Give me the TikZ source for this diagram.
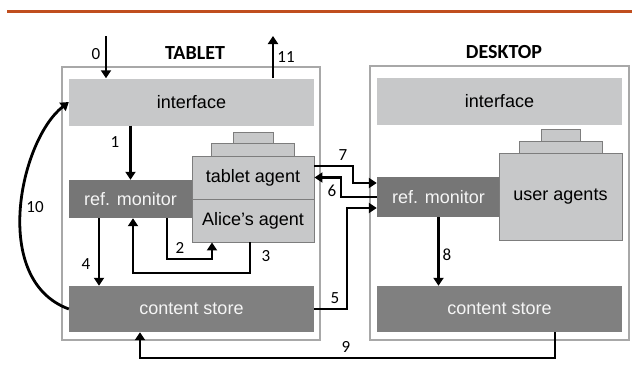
\documentclass[tikz,border=0pt]{standalone}
\usepackage{fontspec}
\setmainfont{Liberation Sans}
\newfontfamily\calib{Carlito}
\usetikzlibrary{arrows.meta}
\definecolor{lightg}{RGB}{199,200,201}
\definecolor{darkg}{RGB}{118,118,118}
\definecolor{storeg}{RGB}{128,128,128}
\definecolor{frameg}{RGB}{168,168,168}
\definecolor{edgeg}{RGB}{125,125,125}
\definecolor{topline}{RGB}{192,78,30}
\definecolor{paletext}{RGB}{245,245,245}
\tikzset{
  frame/.style={draw=frameg, line width=2pt, fill=none, inner sep=0pt},
  lbox/.style={fill=lightg, inner sep=0pt, font=\fontsize{18}{20}\selectfont},
  dbox/.style={fill=darkg, inner sep=0pt, text=paletext, font=\fontsize{18}{20}\selectfont},
  sbox/.style={fill=storeg, inner sep=0pt, text=paletext, font=\fontsize{18}{20}\selectfont},
  abox/.style={fill=lightg, draw=edgeg, line width=0.9pt, inner sep=0pt, font=\fontsize{18}{20}\selectfont},
  arr/.style={line width=2.8pt, -{Triangle[width=10pt,length=8pt]}},
  ln/.style={font=\calib\fontsize{17}{19}\selectfont, inner sep=0pt},
  ttl/.style={font=\calib\bfseries\fontsize{20}{22}\selectfont, inner sep=0pt}
}
\begin{document}
\begin{tikzpicture}[x=1pt,y=-1pt]
\useasboundingbox (0,0) rectangle (632,381);
\fill[white] (0,0) rectangle (632,381);
% top rule
\coordinate (r1) at (7,11.7);
\coordinate (r2) at (632,11.7);
\draw[topline, line width=3.5pt] (r1) -- (r2);
% titles
\node[ttl] (ttab) at (195,53) {TABLET};
\node[ttl] (tdesk) at (504,52) {DESKTOP};
% frames
\node[frame, minimum width=258pt, minimum height=273pt] (tframe) at (191,203.5) {};
\node[frame, minimum width=259pt, minimum height=274pt] (dframe) at (499.5,203) {};
% tablet components
\node[lbox, minimum width=245pt, minimum height=47pt] (tint) at (191.5,102) {interface};
\node[dbox, minimum width=123pt, minimum height=38pt] (trm) at (130.5,199) {ref. monitor};
\node[abox, minimum width=40pt, minimum height=11pt] (ttop) at (253,137.5) {};
\node[abox, minimum width=83pt, minimum height=13pt] (tmid) at (252.5,149.5) {};
\node[abox, minimum width=122pt, minimum height=43pt] (tag) at (253,177.5) {tablet agent};
\node[abox, minimum width=122pt, minimum height=43pt] (alice) at (253,220.5) {Alice’s agent};
\node[sbox, minimum width=245pt, minimum height=46pt] (tcs) at (191.5,309) {content store};
% desktop components
\node[lbox, minimum width=245pt, minimum height=47pt] (dint) at (499.5,101) {interface};
\node[dbox, minimum width=123pt, minimum height=40pt] (drm) at (438.5,197) {ref. monitor};
\node[abox, minimum width=39pt, minimum height=12pt] (dtop) at (560.5,135) {};
\node[abox, minimum width=83pt, minimum height=12pt] (dmid) at (560.5,147) {};
\node[abox, minimum width=123pt, minimum height=87pt] (uag) at (560.5,196.5) {user agents};
\node[sbox, minimum width=245pt, minimum height=46pt] (dcs) at (499.5,309) {content store};
% connectors
\coordinate (in0) at (106,36);
\coordinate (out11) at (273,36);
\draw[arr] (in0) -- (in0 |- tint.north);
\draw[arr] (out11 |- tint.north) -- (out11);
\draw[arr] (trm.north |- tint.south) -- (trm.north);
\draw[arr] (99,0 |- trm.south) -- (99,0 |- tcs.north);
\draw[arr] (167,0 |- trm.south) -- (167,259) -| (212,0 |- alice.south);
\draw[arr] (250,0 |- alice.south) -- (250,273) -| (133,0 |- trm.south);
\draw[arr] (tag.east |- 0,166) -| (353,183) -- (drm.west |- 0,183);
\draw[arr] (drm.west) -- (341,0 |- drm.west) |- (tag.east);
\draw[arr] (tcs.east) -| (347,208) -- (drm.west |- 0,208);
\draw[arr] (drm.south) -- (drm.south |- dcs.north);
\draw[arr] (555,0 |- dcs.south) -- (555,358) -| (140,0 |- tcs.south);
\draw[arr] (tcs.west) .. controls (-10,280) and (20,140) .. (tint.west);
% labels
\node[ln] (l0) at (96,54) {0};
\node[ln] (l11) at (286,57) {11};
\node[ln] (l1) at (115,142) {1};
\node[ln] (l10) at (35,207) {10};
\node[ln] (l4) at (86,264) {4};
\node[ln] (l2) at (180,248) {2};
\node[ln] (l3) at (266,256) {3};
\node[ln] (l7) at (343,155) {7};
\node[ln] (l6) at (332,191) {6};
\node[ln] (l5) at (335,298) {5};
\node[ln] (l8) at (447,255) {8};
\node[ln] (l9) at (346,347) {9};
\end{tikzpicture}
\end{document}
